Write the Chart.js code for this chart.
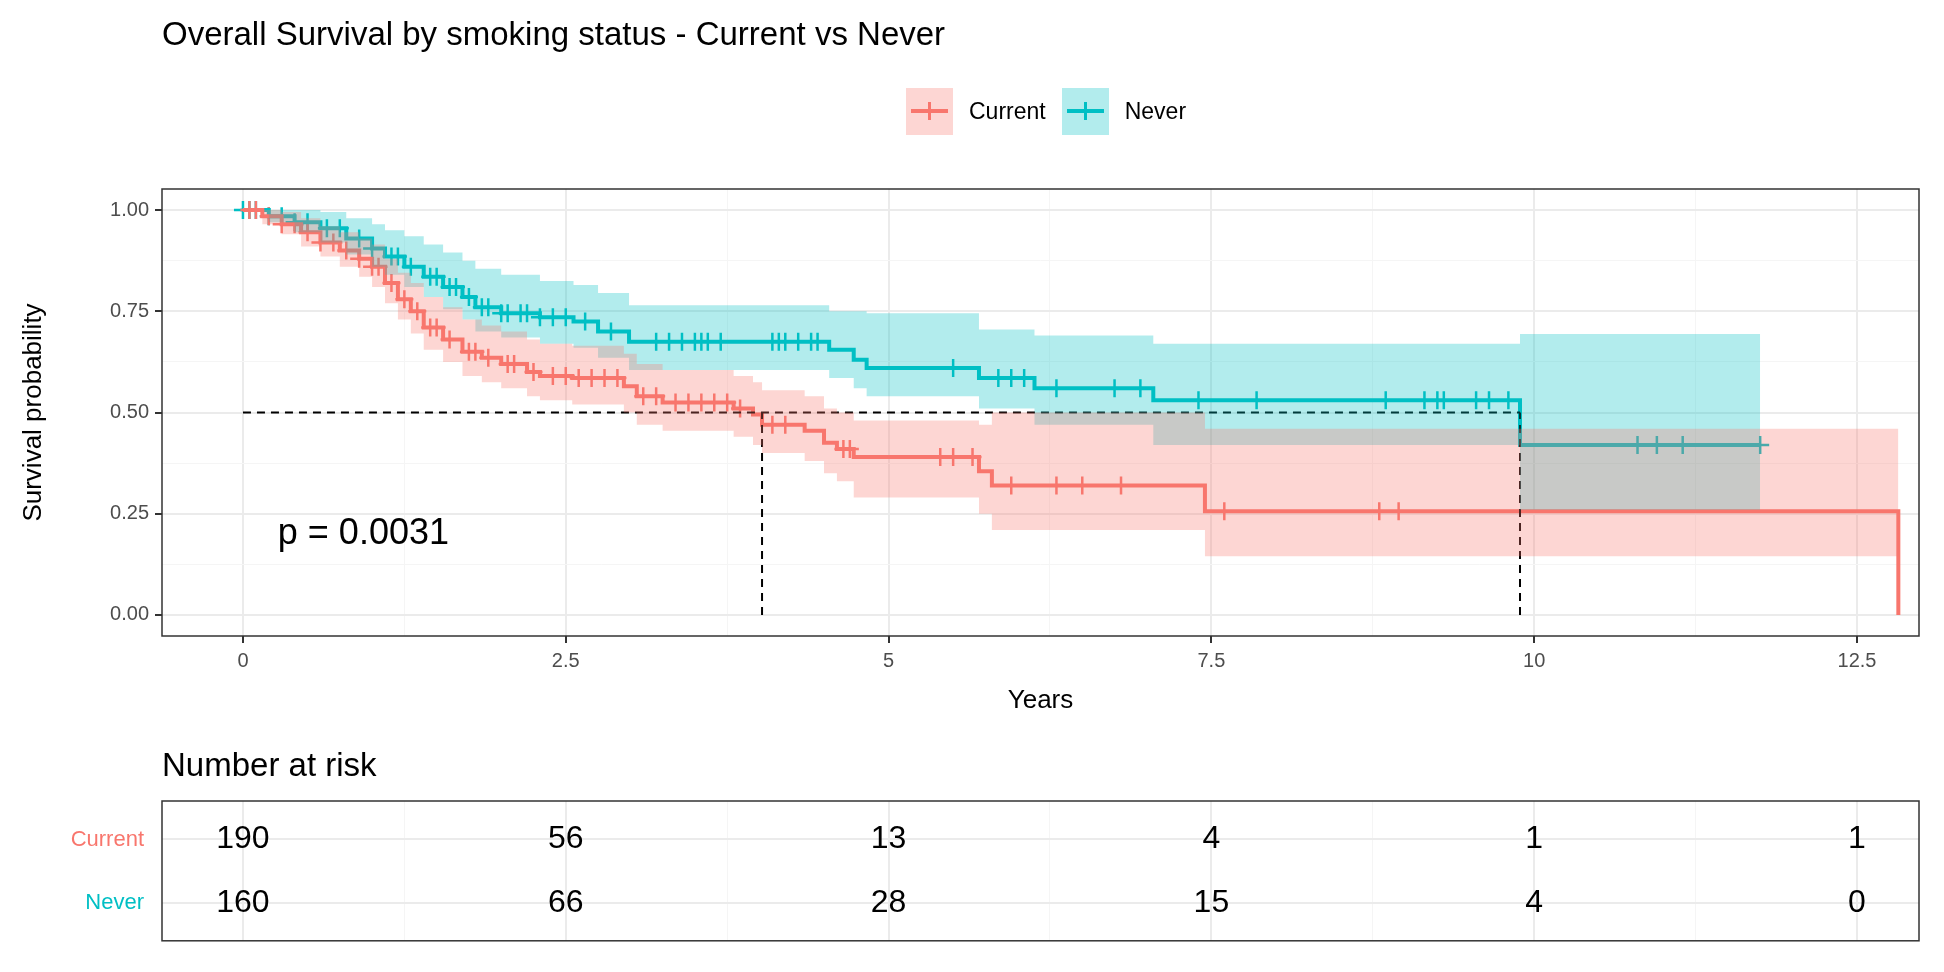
<!DOCTYPE html>
<html>
<head>
<meta charset="utf-8">
<script src="https://cdn.jsdelivr.net/npm/chart.js@4/dist/chart.umd.min.js"></script>
<style>
  body { margin: 0; background: #fff; font-family: "Liberation Sans", Arial, sans-serif; }
  #wrap { position: relative; width: 1944px; height: 972px; }
  .abs { position: absolute; }
  #title { left: 162px; top: 15px; font-size: 33px; color: #000; }
  #risktitle { left: 162px; top: 746px; font-size: 33px; color: #000; }
  #legend { left: 906px; top: 88px; display: flex; align-items: center; font-size: 23px; }
  .key { width: 47px; height: 47px; position: relative; margin-right: 16px; }
  .key .ln { position: absolute; left: 5px; right: 5px; top: 21px; height: 4px; }
  .key .vt { position: absolute; left: 22px; width: 3px; top: 14px; height: 18px; }
</style>
</head>
<body>
<div id="wrap">
  <canvas id="km" class="abs" width="1944" height="720" style="left:0;top:0;width:1944px;height:720px"></canvas>
  <canvas id="risk" class="abs" width="1944" height="252" style="left:0;top:720px;width:1944px;height:252px"></canvas>
  <div id="title" class="abs">Overall Survival by smoking status - Current vs Never</div>
  <div id="risktitle" class="abs">Number at risk</div>
  <div id="legend" class="abs">
    <div class="key" style="background:rgba(248,118,109,0.3)"><div class="ln" style="background:#F8766D"></div><div class="vt" style="background:#F8766D"></div></div>
    <span style="margin-right:16px">Current</span>
    <div class="key" style="background:rgba(0,191,196,0.3)"><div class="ln" style="background:#00BFC4"></div><div class="vt" style="background:#00BFC4"></div></div>
    <span>Never</span>
  </div>
</div>
<script>
// Kaplan-Meier steps
var redT  = [0,0.15,0.3,0.45,0.6,0.75,0.9,1.0,1.1,1.2,1.3,1.4,1.55,1.7,1.85,2.0,2.2,2.3,2.55,2.95,3.05,3.25,3.8,3.95,4.02,4.35,4.5,4.6,4.73,5.7,5.8,7.45,12.82];
var redS  = [1,0.985,0.965,0.945,0.92,0.9,0.88,0.86,0.82,0.78,0.75,0.71,0.68,0.65,0.635,0.62,0.6,0.59,0.585,0.565,0.54,0.525,0.51,0.495,0.47,0.455,0.425,0.41,0.39,0.355,0.32,0.256,0];
var redHi = [1,1,0.995,0.98,0.96,0.945,0.93,0.915,0.88,0.845,0.82,0.785,0.76,0.73,0.715,0.70,0.68,0.67,0.665,0.645,0.62,0.605,0.59,0.575,0.555,0.54,0.51,0.50,0.48,0.47,0.50,0.46,0.46];
var redLo = [1,0.965,0.94,0.91,0.885,0.86,0.835,0.81,0.77,0.73,0.695,0.655,0.625,0.59,0.575,0.56,0.54,0.53,0.52,0.5,0.47,0.455,0.44,0.42,0.4,0.38,0.35,0.33,0.29,0.25,0.21,0.145,0.145];

var nevT  = [0,0.2,0.4,0.6,0.8,1.0,1.1,1.25,1.4,1.55,1.7,1.8,2.0,2.3,2.56,2.75,2.99,4.54,4.73,4.83,5.7,6.13,7.05,9.89,11.75];
var nevS  = [1,0.985,0.97,0.955,0.93,0.905,0.885,0.86,0.835,0.81,0.785,0.76,0.745,0.735,0.725,0.70,0.675,0.655,0.63,0.61,0.585,0.56,0.53,0.42,0.42];
var nevHi = [1,1,1,0.995,0.98,0.965,0.95,0.935,0.915,0.895,0.875,0.855,0.84,0.825,0.815,0.795,0.765,0.75,0.75,0.745,0.705,0.69,0.67,0.694,0.694];
var nevLo = [1,0.97,0.945,0.92,0.89,0.86,0.84,0.81,0.785,0.755,0.73,0.70,0.685,0.67,0.66,0.635,0.605,0.585,0.56,0.54,0.51,0.47,0.42,0.26,0.26];

// censoring times
var redCens = [0.05,0.1,0.2,0.3,0.4,0.5,0.6,0.7,0.8,0.9,1.0,1.05,1.15,1.25,1.35,1.45,1.5,1.6,1.75,1.8,1.9,2.05,2.1,2.25,2.4,2.5,2.6,2.7,2.8,2.9,3.1,3.2,3.35,3.45,3.55,3.65,3.75,3.85,4.1,4.2,4.65,4.7,5.4,5.5,5.65,5.95,6.3,6.5,6.8,7.6,8.8,8.95];
var nevCens = [0,0.05,0.1,0.2,0.3,0.4,0.5,0.65,0.75,0.9,1.0,1.15,1.2,1.3,1.45,1.5,1.6,1.65,1.75,1.85,1.9,2.0,2.05,2.15,2.2,2.3,2.4,2.5,2.65,2.85,3.2,3.3,3.4,3.5,3.55,3.6,3.7,4.1,4.15,4.2,4.3,4.4,4.45,5.5,5.85,5.95,6.05,6.3,6.75,6.95,7.4,7.85,8.85,9.15,9.25,9.3,9.55,9.65,9.8,10.8,10.95,11.15,11.75];

var redMedian = 4.02;
var nevMedian = 9.89;
var pText = 'p = 0.0031';

var riskTimes = [0,2.5,5,7.5,10,12.5];
var riskCurrent = [190,56,13,4,1,1];
var riskNever = [160,66,28,15,4,0];

var RED = '#F8766D', TEAL = '#00BFC4';

function pts(t, v) { return t.map(function(x, i) { return {x: x, y: v[i]}; }); }
function survAt(t, s, x) {
  var v = s[0];
  for (var i = 0; i < t.length; i++) { if (t[i] <= x) v = s[i]; }
  return v;
}
function censPts(c, t, s) { return c.map(function(x) { return {x: x, y: survAt(t, s, x)}; }); }

function xTicks(scale) {
  var tk = [];
  for (var v = 0; v <= 12.5; v += 1.25) tk.push({value: v});
  scale.ticks = tk;
}
function isMajorX(v) { return Math.abs(v / 2.5 - Math.round(v / 2.5)) < 1e-6; }
function isMajorY(v) { return Math.abs(v * 4 - Math.round(v * 4)) < 1e-6; }

var borderPlugin = {
  id: 'panelBorder',
  afterDraw: function(chart) {
    var a = chart.chartArea, c = chart.ctx;
    c.save();
    c.strokeStyle = '#333333';
    c.lineWidth = 1.5;
    c.strokeRect(a.left, a.top, a.right - a.left, a.bottom - a.top);
    c.restore();
  }
};

var pPlugin = {
  id: 'pval',
  afterDatasetsDraw: function(chart) {
    var c = chart.ctx, xs = chart.scales.x, ys = chart.scales.y;
    c.save();
    c.font = '36px "Liberation Sans", Arial, sans-serif';
    c.fillStyle = '#000';
    c.textBaseline = 'middle';
    c.fillText(pText, xs.getPixelForValue(0.27), ys.getPixelForValue(0.2));
    c.restore();
  }
};

var dash = {borderColor: '#000', borderWidth: 2, borderDash: [8, 6], pointRadius: 0, fill: false};
var tickFont = {size: 20, family: '"Liberation Sans", Arial'};
var titleFont = {size: 26, family: '"Liberation Sans", Arial'};

new Chart(document.getElementById('km'), {
  type: 'line',
  data: {
    datasets: [
      {data: pts(redT, redHi), stepped: true, borderWidth: 0, pointRadius: 0, fill: '+1', backgroundColor: 'rgba(248,118,109,0.3)'},
      {data: pts(redT, redLo), stepped: true, borderWidth: 0, pointRadius: 0, fill: false},
      {data: pts(nevT, nevHi), stepped: true, borderWidth: 0, pointRadius: 0, fill: '+1', backgroundColor: 'rgba(0,191,196,0.3)'},
      {data: pts(nevT, nevLo), stepped: true, borderWidth: 0, pointRadius: 0, fill: false},
      Object.assign({data: [{x: 0, y: 0.5}, {x: nevMedian, y: 0.5}]}, dash),
      Object.assign({data: [{x: redMedian, y: 0}, {x: redMedian, y: 0.5}]}, dash),
      Object.assign({data: [{x: nevMedian, y: 0}, {x: nevMedian, y: 0.5}]}, dash),
      {data: pts(redT, redS), stepped: true, borderColor: RED, borderWidth: 4, pointRadius: 0, fill: false},
      {data: pts(nevT, nevS), stepped: true, borderColor: TEAL, borderWidth: 4, pointRadius: 0, fill: false},
      {type: 'scatter', data: censPts(redCens, redT, redS), pointStyle: 'cross', pointRadius: 9, borderColor: RED, borderWidth: 2.5},
      {type: 'scatter', data: censPts(nevCens, nevT, nevS), pointStyle: 'cross', pointRadius: 9, borderColor: TEAL, borderWidth: 2.5}
    ]
  },
  options: {
    responsive: false, animation: false, devicePixelRatio: 1,
    layout: {padding: {top: 189, right: 25, left: 14, bottom: 0}},
    plugins: {legend: {display: false}, tooltip: {enabled: false}},
    scales: {
      x: {
        type: 'linear', min: -0.627, max: 12.98,
        afterBuildTicks: xTicks,
        afterFit: function(s) { s.height = 84; },
        grid: {
          color: function(ctx) { return isMajorX(ctx.tick.value) ? '#ebebeb' : '#f5f5f5'; },
          lineWidth: function(ctx) { return isMajorX(ctx.tick.value) ? 2 : 1; },
          tickColor: function(ctx) { return isMajorX(ctx.tick.value) ? '#333333' : 'rgba(0,0,0,0)'; },
          tickLength: 7
        },
        border: {display: false},
        ticks: {
          color: '#4d4d4d', font: tickFont, padding: 6, maxRotation: 0,
          callback: function(v) { return isMajorX(v) ? String(v) : ''; }
        },
        title: {display: true, text: 'Years', color: '#000', font: titleFont, padding: {top: 0}}
      },
      y: {
        type: 'linear', min: -0.052, max: 1.052,
        afterBuildTicks: function(s) {
          var tk = [];
          for (var v = 0; v <= 1.0001; v += 0.125) tk.push({value: v});
          s.ticks = tk;
        },
        afterFit: function(s) { s.width = 148; },
        grid: {
          color: function(ctx) { return isMajorY(ctx.tick.value) ? '#ebebeb' : '#f5f5f5'; },
          lineWidth: function(ctx) { return isMajorY(ctx.tick.value) ? 2 : 1; },
          tickColor: function(ctx) { return isMajorY(ctx.tick.value) ? '#333333' : 'rgba(0,0,0,0)'; },
          tickLength: 7
        },
        border: {display: false},
        ticks: {
          color: '#4d4d4d', font: tickFont, padding: 6,
          callback: function(v) { return isMajorY(v) ? v.toFixed(2) : ''; }
        },
        title: {display: true, text: 'Survival probability', color: '#000', font: titleFont}
      }
    }
  },
  plugins: [borderPlugin, pPlugin]
});

// risk table
var riskRows = ['Never', 'Current'];
var riskPlugin = {
  id: 'riskText',
  afterDatasetsDraw: function(chart) {
    var c = chart.ctx, xs = chart.scales.x, ys = chart.scales.y;
    c.save();
    c.font = '32px "Liberation Sans", Arial, sans-serif';
    c.fillStyle = '#000';
    c.textAlign = 'center';
    c.textBaseline = 'middle';
    riskTimes.forEach(function(t, i) {
      c.fillText(String(riskCurrent[i]), xs.getPixelForValue(t), ys.getPixelForValue(2));
      c.fillText(String(riskNever[i]), xs.getPixelForValue(t), ys.getPixelForValue(1));
    });
    c.restore();
  }
};

new Chart(document.getElementById('risk'), {
  type: 'scatter',
  data: {datasets: [{data: [], pointRadius: 0}]},
  options: {
    responsive: false, animation: false, devicePixelRatio: 1,
    layout: {padding: {top: 81, right: 25, left: 0, bottom: 19}},
    plugins: {legend: {display: false}, tooltip: {enabled: false}},
    scales: {
      x: {
        type: 'linear', min: -0.627, max: 12.98,
        afterBuildTicks: xTicks,
        afterFit: function(s) { s.height = 0; },
        grid: {
          color: function(ctx) { return isMajorX(ctx.tick.value) ? '#ebebeb' : '#f5f5f5'; },
          lineWidth: function(ctx) { return isMajorX(ctx.tick.value) ? 2 : 1; },
          drawTicks: false
        },
        border: {display: false},
        ticks: {display: false}
      },
      y: {
        type: 'linear', min: 0.405, max: 2.605,
        afterBuildTicks: function(s) { s.ticks = [{value: 1}, {value: 2}]; },
        afterFit: function(s) { s.width = 162; },
        grid: {color: '#ebebeb', lineWidth: 2, drawTicks: false},
        border: {display: false},
        ticks: {
          padding: 18,
          font: {size: 22, family: '"Liberation Sans", Arial'},
          color: function(ctx) { return ctx.tick.value === 2 ? RED : TEAL; },
          callback: function(v) { return riskRows[v - 1]; }
        }
      }
    }
  },
  plugins: [borderPlugin, riskPlugin]
});
</script>
</body>
</html>
